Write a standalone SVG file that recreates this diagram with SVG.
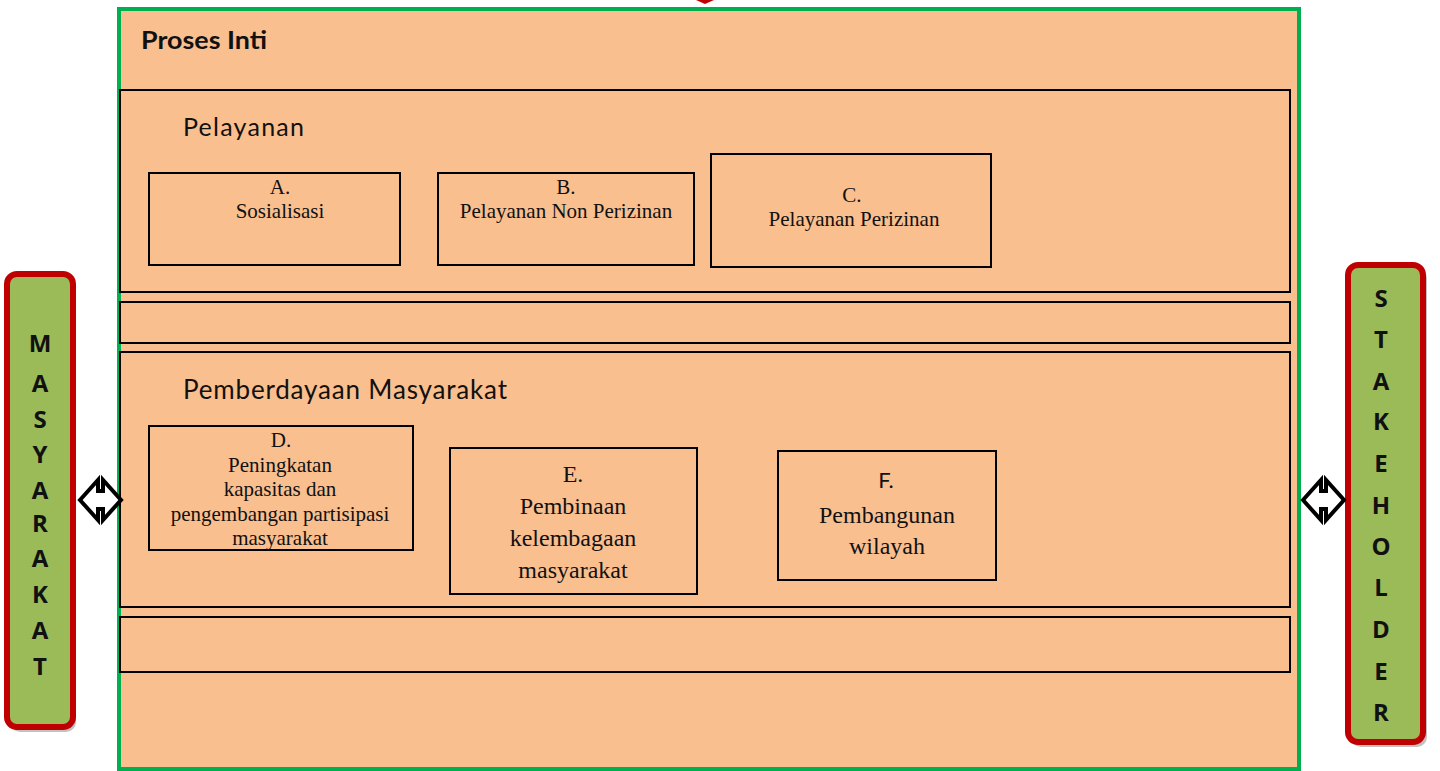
<svg xmlns="http://www.w3.org/2000/svg" width="1440" height="771" viewBox="0 0 1440 771">
<style>
.bg{fill:#F9BF8F}
.panel{fill:#F9BF8F;stroke:#000;stroke-width:2}
.box{fill:#F9BF8F;stroke:#000;stroke-width:2}
.serif{font-family:"Liberation Serif","Times New Roman",serif;fill:#111;text-anchor:middle}
.sans{font-family:Lato,"Open Sans",sans-serif;fill:#111}
.side{fill:#9BBB59;stroke:#C00000;stroke-width:6}
.shadow{fill:#9a9a9a;opacity:0.6}
.vert{font-family:"Open Sans",Lato,sans-serif;font-weight:bold;font-size:24px;fill:#111;text-anchor:middle}
.arrow{fill:#fff;stroke:#000;stroke-width:4;stroke-linejoin:miter}
</style>
<rect x="0" y="0" width="1440" height="771" fill="#fff"/>
<polygon points="696,0 714,0 705,4" fill="#C00000"/>
<g id="proses-inti">
<rect x="119" y="9" width="1180" height="760" class="bg" stroke="#00B050" stroke-width="4"/>
<text x="141" y="49" class="sans" font-size="25" font-weight="bold" textLength="126" lengthAdjust="spacingAndGlyphs">Proses Inti</text>
</g>
<g id="pelayanan">
<rect x="120" y="90" width="1170" height="202" class="panel"/>
<text x="183" y="136" class="sans" font-size="25" textLength="121">Pelayanan</text>
</g>
<g id="strip1"><rect x="120" y="302" width="1170" height="41" class="panel"/></g>
<g id="pemberdayaan">
<rect x="120" y="352" width="1170" height="255" class="panel"/>
<text x="183" y="399" class="sans" font-size="26" textLength="324">Pemberdayaan Masyarakat</text>
</g>
<g id="strip2"><rect x="120" y="617" width="1170" height="55" class="panel"/></g>
<g id="node-a">
<rect x="149" y="173" width="251" height="92" class="box"/>
<text class="serif" font-size="21"><tspan x="280" y="194">A.</tspan><tspan x="280" y="218">Sosialisasi</tspan></text>
</g>
<g id="node-b">
<rect x="438" y="173" width="256" height="92" class="box"/>
<text class="serif" font-size="21"><tspan x="566" y="194">B.</tspan><tspan x="566" y="218">Pelayanan Non Perizinan</tspan></text>
</g>
<g id="node-c">
<rect x="711" y="154" width="280" height="113" class="box"/>
<text class="serif" font-size="21"><tspan x="852" y="202">C.</tspan><tspan x="854" y="226">Pelayanan Perizinan</tspan></text>
</g>
<g id="node-d">
<rect x="149" y="426" width="264" height="124" class="box"/>
<text class="serif" font-size="21"><tspan x="281" y="447">D.</tspan><tspan x="280" y="472">Peningkatan</tspan><tspan x="280" y="496">kapasitas dan</tspan><tspan x="280" y="521">pengembangan partisipasi</tspan><tspan x="280" y="545">masyarakat</tspan></text>
</g>
<g id="node-e">
<rect x="450" y="448" width="247" height="146" class="box"/>
<text class="serif" font-size="24"><tspan x="573" y="482">E.</tspan><tspan x="573" y="514">Pembinaan</tspan><tspan x="573" y="546">kelembagaan</tspan><tspan x="573" y="578">masyarakat</tspan></text>
</g>
<g id="node-f">
<rect x="778" y="451" width="218" height="129" class="box"/>
<text x="886" y="488" class="sans" font-size="22" text-anchor="middle">F.</text>
<text class="serif" font-size="24"><tspan x="887" y="523">Pembangunan</tspan><tspan x="887" y="554">wilayah</tspan></text>
</g>
<g id="masyarakat">
<rect x="10" y="277" width="66" height="455" rx="10" class="shadow"/>
<rect x="7" y="274" width="66" height="453" rx="10" class="side"/>
<text class="vert">
<tspan x="40" y="352">M</tspan><tspan x="40" y="392">A</tspan><tspan x="40" y="428">S</tspan><tspan x="40" y="463">Y</tspan><tspan x="40" y="499">A</tspan><tspan x="40" y="532">R</tspan><tspan x="40" y="567">A</tspan><tspan x="40" y="603">K</tspan><tspan x="40" y="639">A</tspan><tspan x="40" y="675">T</tspan>
</text>
</g>
<g id="stakeholder">
<rect x="1351" y="268" width="76" height="479" rx="10" class="shadow"/>
<rect x="1348" y="265" width="75" height="477" rx="10" class="side"/>
<text class="vert">
<tspan x="1381" y="307">S</tspan><tspan x="1381" y="348">T</tspan><tspan x="1381" y="390">A</tspan><tspan x="1381" y="430">K</tspan><tspan x="1381" y="472">E</tspan><tspan x="1381" y="514">H</tspan><tspan x="1381" y="555">O</tspan><tspan x="1381" y="596">L</tspan><tspan x="1381" y="638">D</tspan><tspan x="1381" y="680">E</tspan><tspan x="1381" y="721">R</tspan>
</text>
</g>
<g id="connectors">
<polygon class="arrow" points="80,500 98,480 98,491 103,491 103,480 121,500 103,520 103,509 98,509 98,520"/>
<polygon class="arrow" points="1303,500 1321,480 1321,491 1326,491 1326,480 1344,500 1326,520 1326,509 1321,509 1321,520"/>
</g>
</svg>
